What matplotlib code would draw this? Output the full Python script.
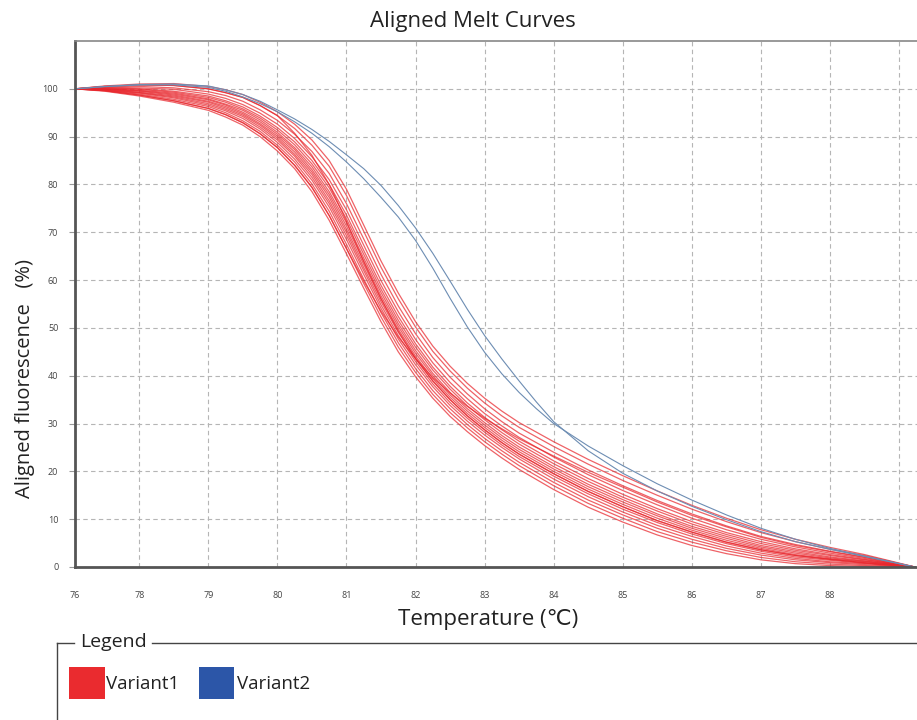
import numpy as np
import matplotlib.pyplot as plt
from matplotlib.patches import Rectangle
from matplotlib.lines import Line2D

plt.rcParams['font.family'] = ['Open Sans', 'DejaVu Sans']

# temperatures the red curves were read at (left edge of the axis is labelled 76)
temps = [77.07, 77.5, 78, 78.5, 79, 79.25, 79.5, 79.75, 80, 80.25, 80.5, 80.75, 81, 81.25, 81.5,
         81.75, 82, 82.25, 82.5, 82.75, 83, 83.25, 83.5, 84, 84.5, 85, 85.5, 86, 86.5, 87,
         87.5, 88, 88.5, 89.23]

variant1 = [
    [100, 99.5, 98.5, 97.2, 95.5, 94.1, 92.4, 90.0, 87.0, 83.3, 78.5, 72.5, 65.5, 58.3, 51.3, 45.0, 39.8, 35.3, 31.5, 28.3, 25.4, 22.8, 20.4, 16.2, 12.5, 9.4, 6.7, 4.5, 2.8, 1.5, 0.7, 0.3, 0.1, 0],
    [100, 99.6, 98.7, 97.5, 95.9, 94.6, 92.9, 90.6, 87.7, 84.0, 79.4, 73.5, 66.6, 59.3, 52.3, 46.0, 40.7, 36.1, 32.3, 29.1, 26.2, 23.6, 21.2, 17.0, 13.3, 10.2, 7.4, 5.2, 3.4, 2.0, 1.1, 0.6, 0.3, 0],
    [100, 99.7, 98.9, 97.8, 96.3, 95.0, 93.3, 91.1, 88.2, 84.7, 80.1, 74.4, 67.5, 60.2, 53.2, 46.9, 41.5, 36.9, 33.1, 29.8, 26.9, 24.3, 21.9, 17.7, 14.0, 10.9, 8.1, 5.8, 3.9, 2.5, 1.5, 0.9, 0.5, 0],
    [100, 99.7, 99.1, 98.1, 96.6, 95.4, 93.8, 91.6, 88.8, 85.3, 80.9, 75.3, 68.5, 61.2, 54.1, 47.7, 42.3, 37.7, 33.8, 30.5, 27.6, 25.0, 22.6, 18.4, 14.7, 11.5, 8.7, 6.4, 4.4, 2.9, 1.8, 1.1, 0.7, 0],
    [100, 99.8, 99.2, 98.3, 96.9, 95.7, 94.2, 92.0, 89.3, 85.9, 81.5, 76.0, 69.3, 62.0, 54.8, 48.4, 43.0, 38.3, 34.4, 31.1, 28.2, 25.5, 23.1, 19.0, 15.3, 12.1, 9.3, 6.9, 4.9, 3.3, 2.1, 1.4, 0.8, 0],
    [100, 99.9, 99.3, 98.5, 97.2, 96.0, 94.5, 92.4, 89.7, 86.3, 82.1, 76.6, 70.0, 62.6, 55.5, 49.1, 43.6, 38.9, 35.0, 31.6, 28.7, 26.0, 23.6, 19.5, 15.8, 12.6, 9.7, 7.3, 5.2, 3.6, 2.4, 1.6, 0.9, 0],
    [100, 99.9, 99.5, 98.7, 97.4, 96.3, 94.8, 92.7, 90.1, 86.8, 82.6, 77.3, 70.6, 63.3, 56.1, 49.7, 44.1, 39.4, 35.5, 32.1, 29.2, 26.5, 24.1, 20.0, 16.3, 13.1, 10.2, 7.7, 5.6, 3.9, 2.6, 1.7, 1.1, 0],
    [100, 100.0, 99.6, 98.9, 97.7, 96.6, 95.1, 93.1, 90.5, 87.3, 83.1, 77.9, 71.3, 64.0, 56.7, 50.3, 44.7, 40.0, 36.0, 32.6, 29.7, 27.0, 24.6, 20.5, 16.8, 13.6, 10.7, 8.1, 6.0, 4.2, 2.9, 1.9, 1.2, 0],
    [100, 100.0, 99.7, 99.1, 97.9, 96.8, 95.5, 93.5, 90.9, 87.7, 83.7, 78.5, 72.0, 64.6, 57.4, 50.9, 45.3, 40.5, 36.5, 33.1, 30.2, 27.5, 25.1, 21.0, 17.3, 14.1, 11.1, 8.5, 6.4, 4.5, 3.2, 2.1, 1.3, 0],
    [100, 100.1, 99.9, 99.3, 98.2, 97.2, 95.8, 93.9, 91.4, 88.3, 84.3, 79.3, 72.8, 65.4, 58.1, 51.6, 46.0, 41.2, 37.2, 33.7, 30.8, 28.1, 25.7, 21.6, 17.9, 14.6, 11.7, 9.0, 6.8, 4.9, 3.5, 2.4, 1.5, 0],
    [100, 100.2, 100.0, 99.5, 98.5, 97.5, 96.2, 94.3, 91.9, 88.9, 85.0, 80.0, 73.6, 66.2, 58.9, 52.4, 46.7, 41.8, 37.8, 34.3, 31.3, 28.7, 26.3, 22.2, 18.5, 15.2, 12.2, 9.5, 7.2, 5.3, 3.8, 2.6, 1.6, 0],
    [100, 100.3, 100.2, 99.9, 98.9, 98.0, 96.7, 94.9, 92.6, 89.6, 85.8, 81.0, 74.7, 67.3, 59.9, 53.4, 47.6, 42.7, 38.6, 35.2, 32.1, 29.5, 27.1, 23.0, 19.3, 16.0, 13.0, 10.2, 7.8, 5.8, 4.2, 2.9, 1.8, 0],
    [100, 100.4, 100.5, 100.2, 99.4, 98.6, 97.4, 95.6, 93.4, 90.5, 86.9, 82.3, 76.0, 68.6, 61.2, 54.6, 48.8, 43.8, 39.7, 36.2, 33.1, 30.4, 28.0, 24.0, 20.3, 17.0, 13.9, 11.1, 8.6, 6.4, 4.7, 3.3, 2.1, 0],
    [100, 100.5, 100.8, 100.7, 100.0, 99.2, 98.2, 96.5, 94.4, 91.7, 88.2, 83.8, 77.7, 70.2, 62.7, 56.1, 50.2, 45.1, 41.0, 37.4, 34.3, 31.6, 29.2, 25.2, 21.5, 18.1, 15.0, 12.1, 9.5, 7.2, 5.3, 3.7, 2.4, 0],
    [100, 100.6, 101.0, 101.1, 100.5, 99.8, 98.8, 97.2, 95.2, 92.6, 89.3, 85.0, 79.0, 71.5, 64.0, 57.3, 51.3, 46.2, 42.0, 38.4, 35.3, 32.6, 30.2, 26.2, 22.5, 19.1, 15.9, 12.9, 10.2, 7.8, 5.8, 4.1, 2.6, 0],
    [100, 100.5, 100.8, 100.7, 100.0, 99.2, 98.2, 96.5, 94.4, 90.7, 86.1, 80.0, 72.3, 63.8, 56.1, 49.3, 43.6, 38.9, 35.0, 31.6, 28.7, 26.0, 23.6, 19.5, 15.8, 12.6, 9.7, 7.3, 5.2, 3.6, 2.4, 1.6, 0.9, 0],
    [100, 99.6, 98.7, 97.5, 95.9, 94.6, 92.9, 90.6, 87.7, 84.0, 79.4, 73.5, 66.6, 59.8, 53.5, 48.1, 43.6, 39.6, 36.4, 33.6, 31.1, 28.9, 26.8, 23.2, 19.8, 16.7, 13.6, 10.8, 8.4, 6.2, 4.5, 3.2, 2.0, 0],
]

blue_temps = [77.07, 77.5, 78, 78.5, 79, 79.25, 79.5, 79.75, 80, 80.25, 80.5, 80.75, 81, 81.25,
              81.5, 81.75, 82, 82.25, 82.5, 82.75, 83, 83.25, 83.5, 83.75, 84, 84.5, 85, 85.5,
              86, 86.5, 87, 87.5, 88, 88.5, 89.23]
variant2 = [
    [100, 100.45, 100.8, 100.85, 100.3, 99.5, 98.3, 96.9, 95.2, 93.1, 90.7, 87.9, 84.7, 81.2, 77.3, 73.2, 68.3, 62.5, 56.2, 50.2, 44.9, 40.4, 36.5, 33.1, 30.0, 25.3, 21.2, 17.4, 14.0, 10.9, 8.1, 5.8, 3.9, 2.3, 0],
    [100, 100.5, 100.9, 101.0, 100.6, 99.8, 98.8, 97.4, 95.6, 93.7, 91.5, 89.0, 86.2, 83.3, 79.8, 75.6, 70.9, 65.6, 59.8, 53.9, 48.4, 43.5, 38.9, 34.5, 30.4, 24.3, 19.6, 15.9, 12.7, 9.9, 7.4, 5.3, 3.7, 2.2, 0],
]

xticks = [77.07, 78, 79, 80, 81, 82, 83, 84, 85, 86, 87, 88, 89]
xticklabels = ['76', '78', '79', '80', '81', '82', '83', '84', '85', '86', '87', '88', '']
yticks = [0, 10, 20, 30, 40, 50, 60, 70, 80, 90, 100]

fig = plt.figure(figsize=(9.17, 7.2), dpi=100)
ax = fig.add_axes([75 / 917, 1 - 567 / 720, 1 - 75 / 917, (567 - 41) / 720])

for curve in variant1:
    ax.plot(temps, curve, color='#e8262c', lw=0.9, alpha=0.72)
for curve in variant2:
    ax.plot(blue_temps, curve, color='#6d8db3', lw=0.8)

ax.set_xlim(77.07, 89.26)
ax.set_ylim(0, 110)
ax.set_xticks(xticks)
ax.set_xticklabels(xticklabels)
ax.set_yticks(yticks)
ax.tick_params(axis='x', length=0, pad=17, labelsize=6.5, labelcolor='#444444')
ax.tick_params(axis='y', length=4, width=0.8, color='#999999', pad=8, labelsize=6.5, labelcolor='#444444')
ax.grid(True, color='#b5b5b5', linestyle=(0, (4, 3)), linewidth=0.8)
ax.set_axisbelow(True)

ax.spines['right'].set_visible(False)
ax.spines['left'].set_color('#555555')
ax.spines['left'].set_linewidth(2)
ax.spines['bottom'].set_color('#555555')
ax.spines['bottom'].set_linewidth(2)
ax.spines['top'].set_color('#888888')
ax.spines['top'].set_linewidth(1.2)

fig.text(473 / 917, 1 - 21 / 720, 'Aligned Melt Curves', ha='center', va='center', fontsize=16, color='#222222')
fig.text(488 / 917, 1 - 620 / 720, 'Temperature (\u2103)', ha='center', va='center', fontsize=16, color='#222222')
fig.text(25 / 917, 1 - 378 / 720, 'Aligned fluorescence   (%)', ha='center', va='center',
         rotation=90, fontsize=14.5, color='#222222')

# legend frame: only top and left edges show
fig.add_artist(Line2D([57 / 917, 74 / 917], [1 - 643 / 720] * 2, color='#444444', lw=1))
fig.add_artist(Line2D([152 / 917, 1.0], [1 - 643 / 720] * 2, color='#444444', lw=1))
fig.add_artist(Line2D([57 / 917] * 2, [1 - 643 / 720, 0], color='#444444', lw=1))
fig.text(113 / 917, 1 - 642 / 720, 'Legend', ha='center', va='center', fontsize=14, color='#222222')

fig.add_artist(Rectangle((69 / 917, 1 - 699 / 720), 36 / 917, 32 / 720, facecolor='#ea2b2f', edgecolor='none'))
fig.text(106 / 917, 1 - 684 / 720, 'Variant1', ha='left', va='center', fontsize=13.5, color='#222222')
fig.add_artist(Rectangle((199 / 917, 1 - 699 / 720), 35 / 917, 32 / 720, facecolor='#2c56a8', edgecolor='none'))
fig.text(237 / 917, 1 - 684 / 720, 'Variant2', ha='left', va='center', fontsize=13.5, color='#222222')

fig.savefig('out.png', dpi=100)
